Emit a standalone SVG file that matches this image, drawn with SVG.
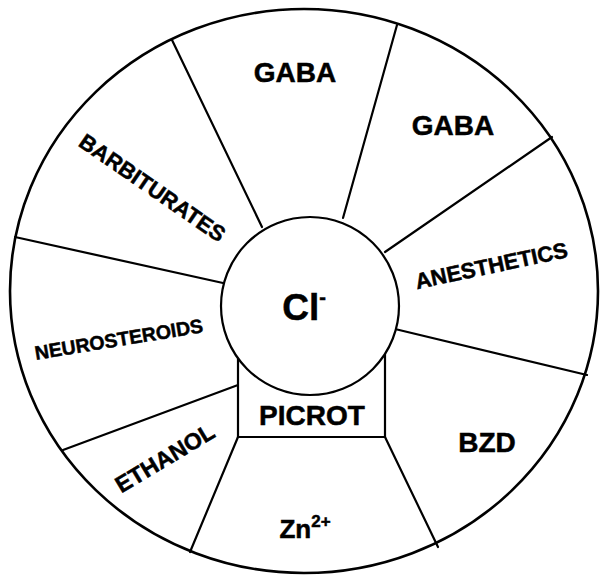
<svg xmlns="http://www.w3.org/2000/svg" width="600" height="577" viewBox="0 0 600 577">
<style>
.ln{stroke:#000;stroke-width:2.2;fill:none;stroke-linecap:round}
.t{font-family:"Liberation Sans",Arial,sans-serif;font-weight:bold;fill:#000;stroke:#000;stroke-width:0.5;text-anchor:middle}
.big{font-size:28px}
.mid{font-size:22px}
</style>
<rect width="600" height="577" fill="#fff"/>
<ellipse id="outer" cx="304" cy="291" rx="294" ry="282" fill="#fff" stroke="#000" stroke-width="2.6"/>
<g id="connectors" class="ln">
<line x1="262" y1="227" x2="172" y2="40"/>
<line x1="343" y1="218" x2="397" y2="25"/>
<line x1="385" y1="252" x2="552" y2="137"/>
<line x1="395" y1="329" x2="587" y2="375"/>
<line x1="385" y1="437" x2="438" y2="547"/>
<line x1="238" y1="437" x2="190" y2="552"/>
<line x1="238" y1="385" x2="63" y2="450"/>
<line x1="223" y1="283" x2="15" y2="237"/>
</g>
<g id="picrot">
<path class="ln" d="M238,350 L238,437 L385,437 L385,350"/>
<text class="t big" x="312" y="425">PICROT</text>
</g>
<g id="cl">
<circle cx="310" cy="306" r="89" fill="#fff" stroke="#000" stroke-width="2.2"/>
<text class="t" x="304" y="320" font-size="37">Cl<tspan font-size="20" dy="-16">-</tspan></text>
</g>
<g id="gaba1"><text class="t big" x="295" y="82">GABA</text></g>
<g id="gaba2"><text class="t big" x="453" y="135">GABA</text></g>
<g id="bzd"><text class="t big" x="487" y="452">BZD</text></g>
<g id="zn"><text class="t" x="305" y="538" font-size="26">Zn<tspan font-size="17" dy="-11">2+</tspan></text></g>
<g id="barbiturates"><text class="t mid" transform="translate(148,194) rotate(34.6)">BARBITURATES</text></g>
<g id="anesthetics"><text class="t mid" transform="translate(493,273) rotate(-12)">ANESTHETICS</text></g>
<g id="neurosteroids"><text class="t" font-size="19.5" transform="translate(120,346) rotate(-9.4)">NEUROSTEROIDS</text></g>
<g id="ethanol"><text class="t" font-size="23" transform="translate(169,465) rotate(-31)">ETHANOL</text></g>
</svg>
